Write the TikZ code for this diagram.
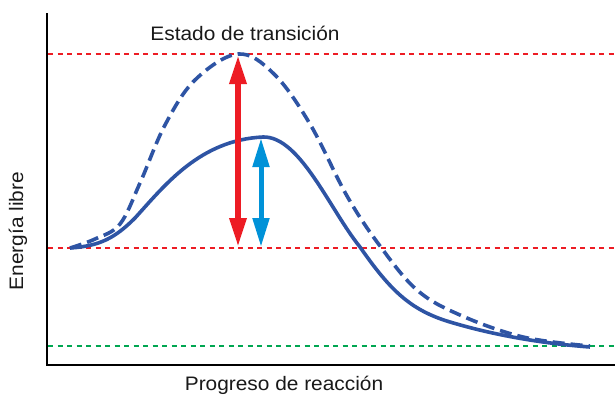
\documentclass[tikz,border=0pt]{standalone}
\usepackage{fontspec}
\setmainfont[FakeStretch=1.07]{Liberation Sans}
\usetikzlibrary{arrows.meta}
\definecolor{curveblue}{RGB}{46,84,164}
\definecolor{arrred}{RGB}{237,28,36}
\definecolor{arrcyan}{RGB}{0,146,216}
\definecolor{lvlgreen}{RGB}{0,166,81}
\tikzset{
  axisline/.style={line width=1.5pt, black},
  level/.style={line width=2.2pt, dash pattern=on 5pt off 4.5pt},
  curve/.style={line width=3.6pt, curveblue, line join=round},
  dcurve/.style={curve, dash pattern=on 12pt off 6pt},
  dbl/.style={{Triangle[width=16pt,length=29pt]}-{Triangle[width=16pt,length=29pt]}},
  lbl/.style={font=\fontsize{19.5}{22}\selectfont, inner sep=0pt, text=black!90}
}
\begin{document}
\begin{tikzpicture}[x=1pt,y=-1pt]
\path[use as bounding box, fill=white] (0,0) rectangle (615,397);
% axes
\coordinate (ytop) at (47,13);
\coordinate (orig) at (47,365);
\coordinate (xend) at (615,365);
\draw[axisline] (ytop) -- (orig) -- (xend);
% level lines
\coordinate (l1a) at (48,54);  \coordinate (l1b) at (615,54);
\coordinate (l2a) at (48,248); \coordinate (l2b) at (615,248);
\coordinate (l3a) at (48,346); \coordinate (l3b) at (615,346);
\draw[level, arrred] (l1a) -- (l1b);
\draw[level, arrred] (l2a) -- (l2b);
\draw[level, lvlgreen] (l3a) -- (l3b);
% curves
\draw[dcurve] plot[smooth, tension=0.6] coordinates {
 (70,248) (95,239) (120,224) (140,183) (165,125) (195,80)
 (238,54) (274,74) (310,124) (347,196) (380,246) (417,290)
 (460,315) (523,337) (590,346)};
\draw[curve] (70,248) .. controls (100,246) and (115,238) .. (135,218)
  .. controls (165,185) and (200,140) .. (263,137)
  .. controls (300,136) and (330,210) .. (360,247)
  .. controls (390,290) and (410,310) .. (450,322)
  .. controls (500,337) and (550,344) .. (590,347);
% arrows
\coordinate (ra) at (238,55);  \coordinate (rb) at (238,247);
\coordinate (ba) at (261,138); \coordinate (bb) at (261,247);
\draw[dbl, line width=6pt, arrred] (ra) -- (rb);
\draw[dbl, line width=5pt, arrcyan] (ba) -- (bb);
% labels
\node[lbl] (ts) at (245,33) {Estado de transición};
\node[lbl, rotate=90] (el) at (18,231) {Energía libre};
\node[lbl] (pr) at (284,385) {Progreso de reacción};
\end{tikzpicture}
\end{document}
